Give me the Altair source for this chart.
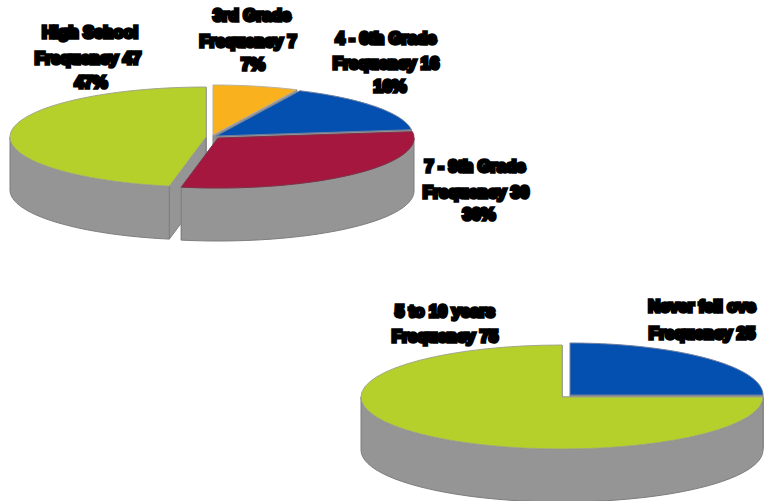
import math
import altair as alt
import pandas as pd

# Schooling breakdown (upper pie) and duration breakdown (lower pie), clockwise from 12 o'clock
upper_parts = ["3rd Grade", "4 - 6th Grade", "7 - 9th Grade", "High School"]
upper_shares = [7, 16, 30, 47]
lower_parts = ["Never fell ove", "5 to 10 years"]
lower_shares = [25, 75]

# Exploded slice anchors and disc proportions
upper_centres = [(213, 135), (216, 136), (218, 138), (206, 137)]
upper_radii = [(197, 50), (197, 50), (196, 50), (196, 50)]
lower_centres = [(570, 395), (562, 397)]
lower_radii = [(193, 52), (201, 52)]
DEPTH = 53

SLICE_COLOURS = {
    "3rd Grade": "#F9B11E",
    "4 - 6th Grade": "#0450B0",
    "7 - 9th Grade": "#A5173F",
    "High School": "#B5CF2B",
    "Never fell ove": "#0450B0",
    "5 to 10 years": "#B5CF2B",
}
SLICE_EDGES = {
    "3rd Grade": "#b8b0a0",
    "4 - 6th Grade": "#6f7f9f",
    "7 - 9th Grade": "#7f3048",
    "High School": "#a0a88a",
    "Never fell ove": "#6f7f9f",
    "5 to 10 years": "#a0a88a",
}

# Label rows: text, centre x, middle y
label_lines = [
    "High School", "Frequency 47", "47%",
    "3rd Grade", "Frequency 7", "7%",
    "4 - 6th Grade", "Frequency 16", "16%",
    "7 - 9th Grade", "Frequency 30", "30%",
    "5 to 10 years", "Frequency 75",
    "Never fell ove", "Frequency 25",
]
label_x = [90, 88, 91, 252, 248, 253, 386, 386, 390, 475, 476, 479, 445, 445, 702, 702]
label_y = [33, 59, 83, 16, 42, 65, 39, 64, 87, 167, 193, 215, 312, 337, 307, 334]


def spans(shares):
    total, run, out = sum(shares), 0, []
    for s in shares:
        out.append((run / total * 360, (run + s) / total * 360))
        run += s
    return out


def rim(c, r, a0, a1, dy=0, n=48):
    pts = []
    for i in range(n + 1):
        t = math.radians(a0 + (a1 - a0) * i / n)
        pts.append((c[0] + r[0] * math.sin(t), c[1] - r[1] * math.cos(t) + dy))
    return pts


def add(rows, shape, part, pts):
    for i, (x, y) in enumerate(pts + pts[:1]):
        rows.append({"shape": shape, "part": part, "seq": i, "x": x, "y": y})


walls, tops = [], []


def add_face(prefix, part, angle, c, r):
    end = rim(c, r, angle, angle, n=1)[0]
    add(walls, f"{prefix}-{part}-face-{angle:.0f}", "wall",
        [c, end, (end[0], end[1] + DEPTH), (c[0], c[1] + DEPTH)])


def build(prefix, parts, shares, centres, radii):
    sp = spans(shares)
    # radial cut faces: each slice's trailing edge, plus the last slice's leading edge
    for part, (a0, a1), c, r in zip(parts, sp, centres, radii):
        add_face(prefix, part, a1, c, r)
    add_face(prefix, parts[-1], sp[-1][0], centres[-1], radii[-1])
    # front-facing rim bands
    for part, (a0, a1), c, r in zip(parts, sp, centres, radii):
        lo, hi = max(a0, 90), min(a1, 270)
        if hi > lo:
            add(walls, f"{prefix}-{part}-rim", "wall",
                rim(c, r, lo, hi) + rim(c, r, hi, lo, dy=DEPTH))
    # slice tops
    for part, (a0, a1), c, r in zip(parts, sp, centres, radii):
        add(tops, f"{prefix}-{part}-top", part, [c] + rim(c, r, a0, a1))


build("upper", upper_parts, upper_shares, upper_centres, upper_radii)
build("lower", lower_parts, lower_shares, lower_centres, lower_radii)

# Both scales are 1:1 with the view, y running downward
x_enc = alt.X("x:Q", scale=alt.Scale(domain=[0, 764]), axis=None)
y_enc = alt.Y("y:Q", scale=alt.Scale(domain=[501, 0]), axis=None)

wall_layer = (
    alt.Chart(pd.DataFrame(walls))
    .mark_line(filled=True, fill="#959595", stroke="#7d7d7d", strokeWidth=1, strokeJoin="round")
    .encode(x=x_enc, y=y_enc, detail="shape:N", order="seq:Q")
)

parts = list(SLICE_COLOURS)
top_layer = (
    alt.Chart(pd.DataFrame(tops))
    .mark_line(filled=True, strokeWidth=1, strokeJoin="round")
    .encode(
        x=x_enc,
        y=y_enc,
        detail="shape:N",
        order="seq:Q",
        fill=alt.Fill("part:N", scale=alt.Scale(domain=parts, range=[SLICE_COLOURS[p] for p in parts]), legend=None),
        stroke=alt.Stroke("part:N", scale=alt.Scale(domain=parts, range=[SLICE_EDGES[p] for p in parts]), legend=None),
    )
)

label_layer = (
    alt.Chart(pd.DataFrame({"text": label_lines, "x": label_x, "y": label_y}))
    .mark_text(
        font="Liberation Sans",
        fontWeight="bold",
        fontSize=16.5,
        color="#000000",
        stroke="#000000",
        strokeWidth=3.4,
        align="center",
        baseline="middle",
    )
    .encode(x=x_enc, y=y_enc, text="text:N")
)

chart = (
    alt.layer(wall_layer, top_layer, label_layer)
    .properties(width=764, height=501, padding=0, autosize=alt.AutoSizeParams(type="none"))
    .configure_view(stroke=None)
)

chart.save("out.html", embed_options={"renderer": "svg", "actions": False})
